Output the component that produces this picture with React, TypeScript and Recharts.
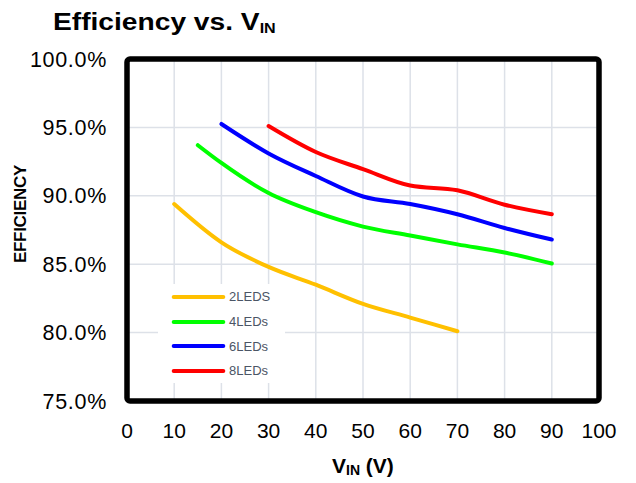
import React from 'react';
import { LineChart, Line, XAxis, YAxis, CartesianGrid, ReferenceArea, Legend } from 'recharts';

const seriesNames = ['2LEDS', '4LEDs', '6LEDs', '8LEDs'];
const seriesColors = ['#FFC000', '#00FF00', '#0000FF', '#FF0000'];

const vin2 = [10, 20, 30, 40, 50, 60, 70];
const eff2 = [89.4, 86.6, 84.8, 83.5, 82.1, 81.1, 80.1];
const vin4 = [15, 20, 30, 40, 50, 60, 70, 80, 90];
const eff4 = [93.7, 92.4, 90.2, 88.8, 87.75, 87.1, 86.45, 85.85, 85.05];
const vin6 = [20, 30, 40, 50, 60, 70, 80, 90];
const eff6 = [95.25, 93.1, 91.45, 89.95, 89.4, 88.65, 87.65, 86.8];
const vin8 = [30, 40, 50, 60, 70, 80, 90];
const eff8 = [95.1, 93.2, 91.95, 90.75, 90.4, 89.35, 88.65];

const xTicks = [0, 10, 20, 30, 40, 50, 60, 70, 80, 90, 100];
const yTicks = [75, 80, 85, 90, 95, 100];

const build = (xs: number[], ys: number[]) => xs.map((v, i) => ({ v, eff: ys[i] }));
const seriesData = [build(vin2, eff2), build(vin4, eff4), build(vin6, eff6), build(vin8, eff8)];

const FONT = '"Liberation Sans", Arial, sans-serif';

const BorderShape = (p: any) => (
  <rect x={p.x} y={p.y} width={p.width} height={p.height} rx={3} ry={3}
    fill="none" stroke="#000" strokeWidth={5.5} strokeLinejoin="round" />
);

const LegendContent = (props: any) => {
  const payload = props.payload || [];
  return (
    <div style={{ background: '#fff', width: 127, height: 99, paddingTop: 0.5, boxSizing: 'border-box' }}>
      {payload.map((e: any, i: number) => (
        <div key={i} style={{ height: 24.7, display: 'flex', alignItems: 'center' }}>
          <svg width={71} height={10} style={{ display: 'block' }}>
            <line x1={15.7} y1={5} x2={65.3} y2={5} stroke={e.color} strokeWidth={4} strokeLinecap="round" />
          </svg>
          <span style={{ fontFamily: FONT, fontSize: 13, color: '#4b5565', lineHeight: '13px' }}>{e.value}</span>
        </div>
      ))}
    </div>
  );
};

export default function App() {
  return (
    <div style={{ position: 'absolute', left: 0, top: 0, width: 636, height: 483, background: '#fff', fontFamily: FONT }}>
      <LineChart width={636} height={483} margin={{ top: 59, right: 37, left: 0, bottom: 52 }}>
        <CartesianGrid stroke="#dde1e8" strokeWidth={1.5} />
        <XAxis type="number" dataKey="v" domain={[0, 100]} ticks={xTicks} interval={0}
          axisLine={false} tickLine={false} tickSize={0} tickMargin={22} height={30}
          tick={{ fill: '#000', fontSize: 21, fontFamily: FONT }} allowDuplicatedCategory={false} />
        <YAxis type="number" domain={[75, 100]} ticks={yTicks} interval={0} width={127}
          axisLine={false} tickLine={false} tickSize={0} tickMargin={20}
          tickFormatter={(v: number) => v.toFixed(1) + '%'}
          tick={{ fill: '#000', fontSize: 21.5, fontFamily: FONT, letterSpacing: 0.7 }} />
        {seriesData.map((d, i) => (
          <Line key={seriesNames[i]} data={d} dataKey="eff" name={seriesNames[i]} type="monotone"
            stroke={seriesColors[i]} strokeWidth={4} strokeLinecap="round" dot={false}
            isAnimationActive={false} />
        ))}
        <ReferenceArea x1={0} x2={100} y1={75} y2={100} shape={BorderShape} ifOverflow="visible" />
        <Legend layout="vertical" align="center" verticalAlign="middle" content={LegendContent}
          wrapperStyle={{ left: 158, top: 284, width: 127, height: 99 }} />
      </LineChart>
      <svg width={636} height={483} style={{ position: 'absolute', left: 0, top: 0, pointerEvents: 'none' }}>
        <text transform="translate(53,30) scale(1.15,1)" x={0} y={0} fontFamily={FONT} fontWeight="bold" fontSize={24.5} fill="#000">
          Efficiency vs. V<tspan fontSize={14} dy={3}>IN</tspan>
        </text>
        <text x={25.5} y={214} transform="rotate(-90 25.5 214)" textAnchor="middle" fontFamily={FONT}
          fontWeight="bold" fontSize={17} letterSpacing={-0.3} fill="#000">EFFICIENCY</text>
        <text x={332} y={473} fontFamily={FONT} fontWeight="bold" fontSize={21} fill="#000">
          V<tspan fontSize={14} dy={2}>IN</tspan><tspan dy={-2}> (V)</tspan>
        </text>
      </svg>
    </div>
  );
}
